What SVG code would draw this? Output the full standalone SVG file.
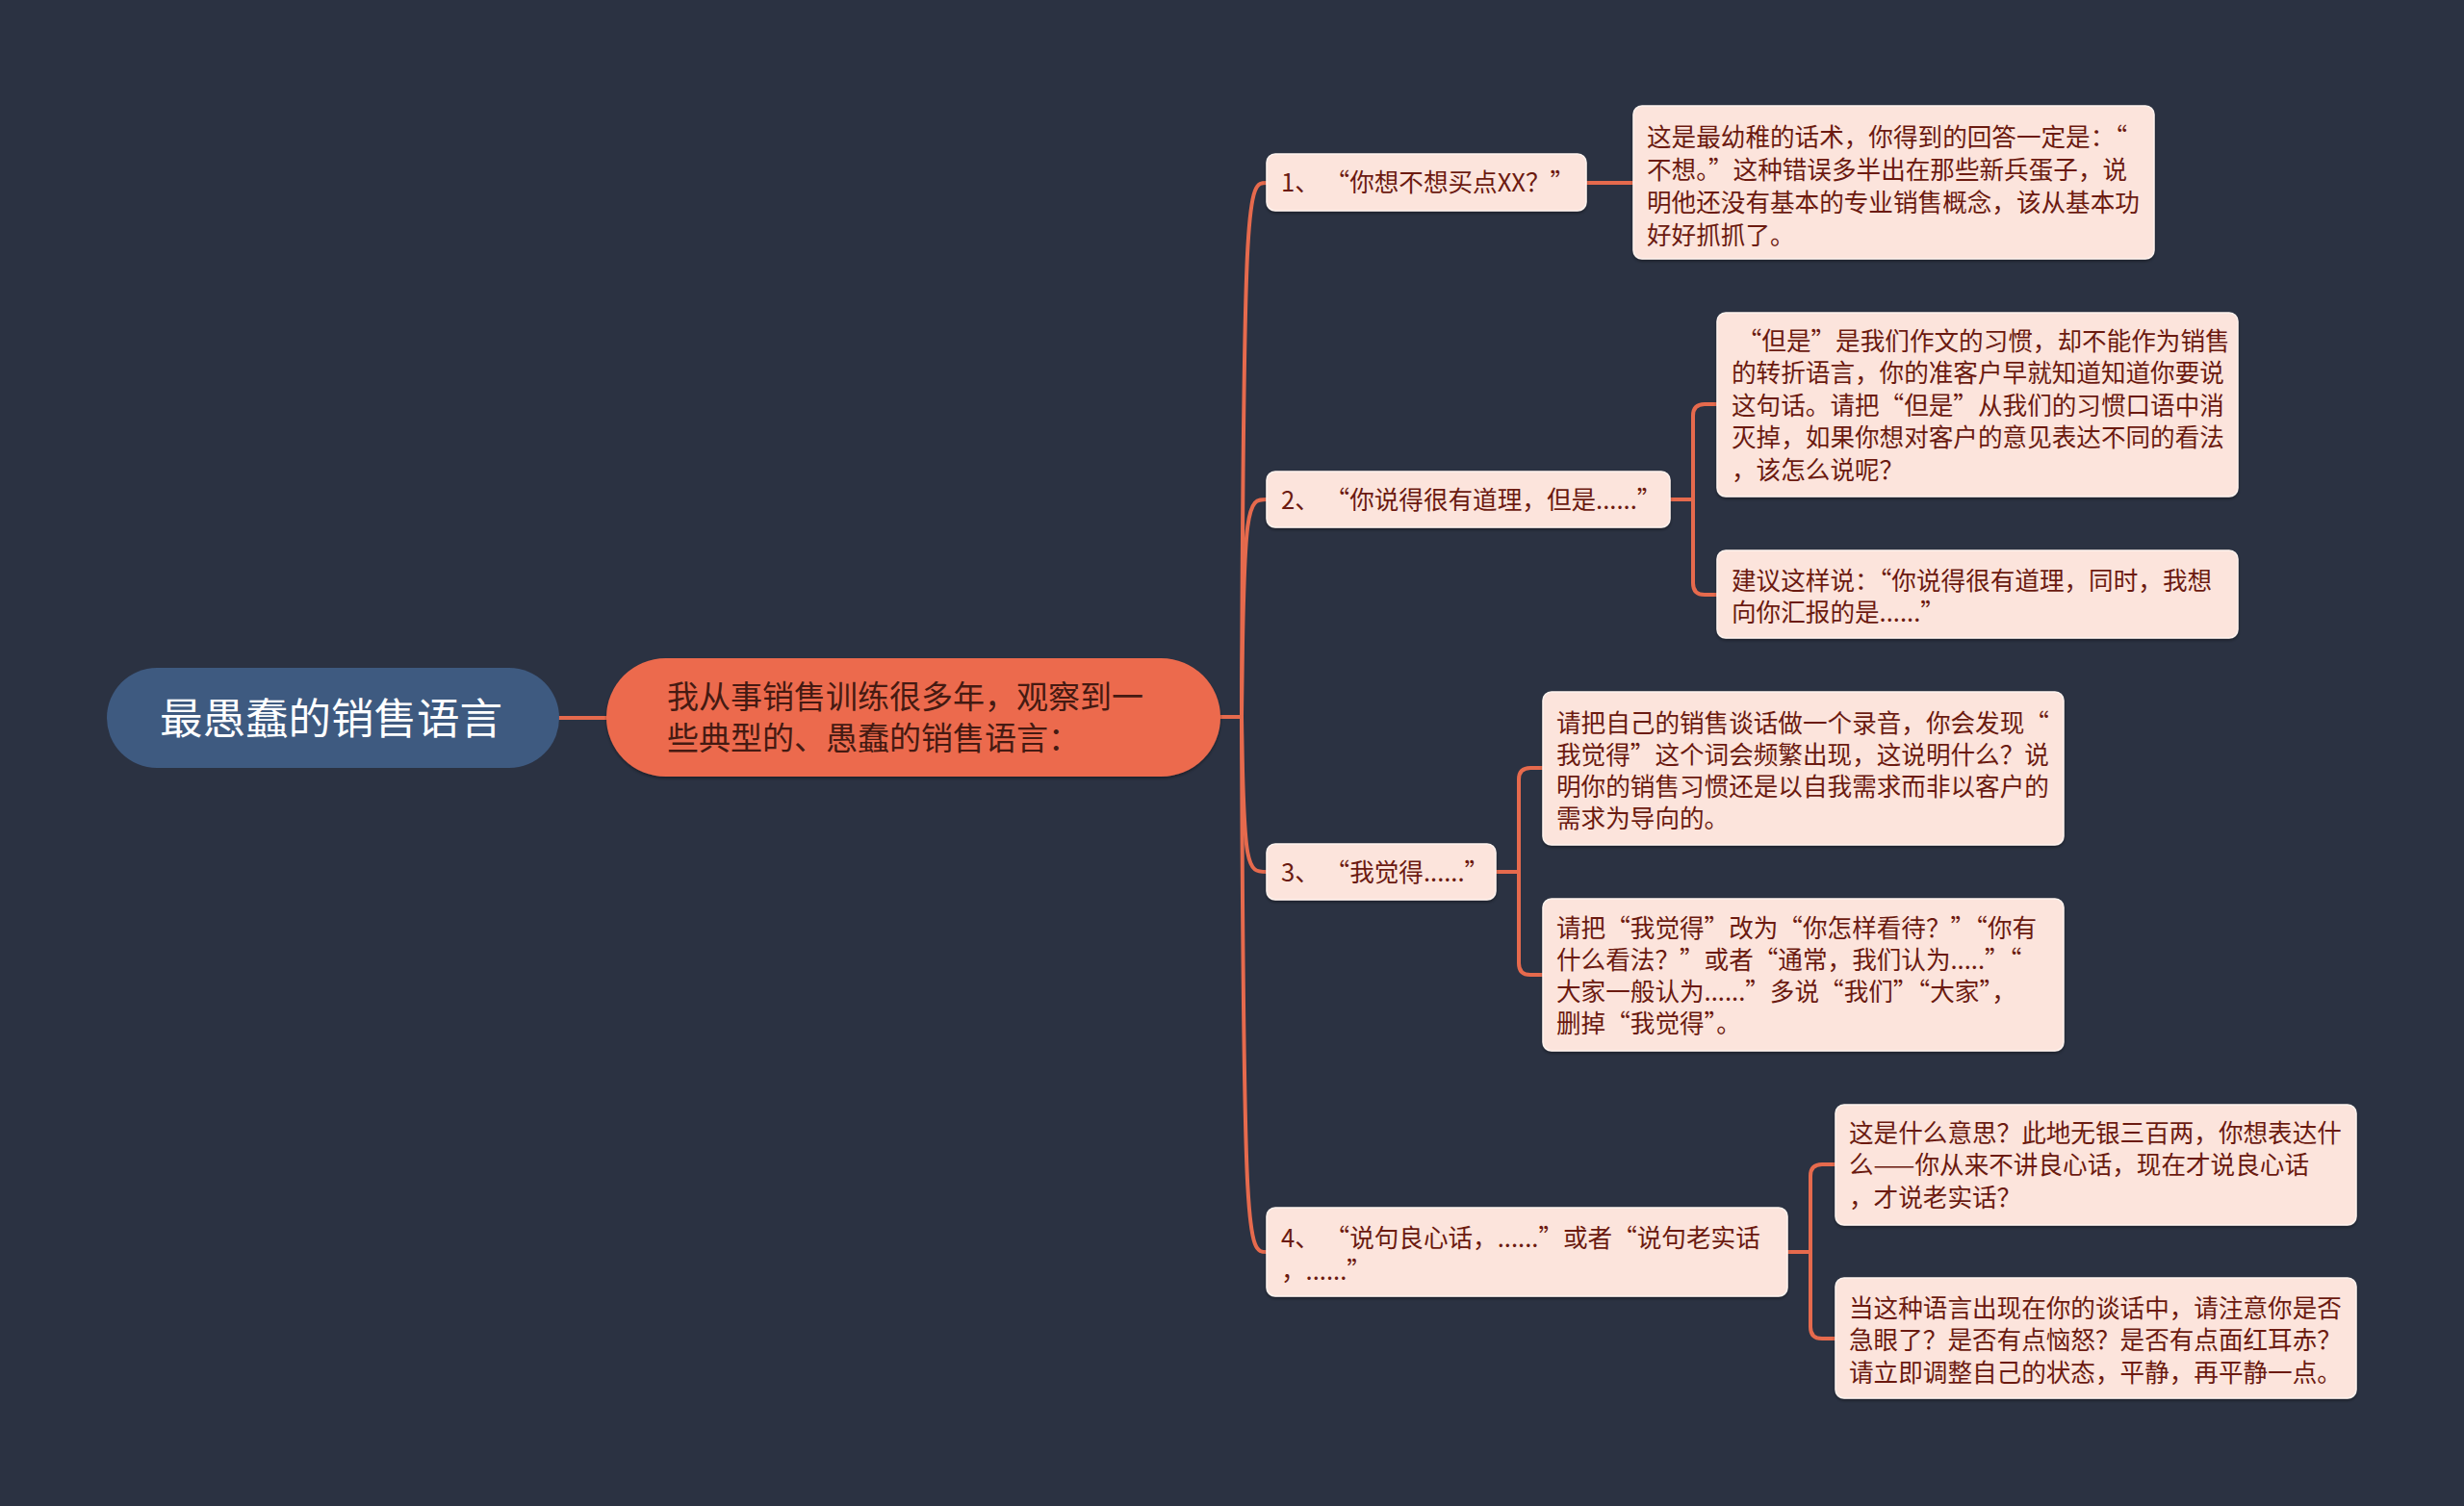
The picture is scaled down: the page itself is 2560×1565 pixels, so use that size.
<svg xmlns="http://www.w3.org/2000/svg" width="2560" height="1565" viewBox="0 0 2560 1565">
<defs>
<style>
.bg{fill:#2b3242}
.edge{fill:none;stroke:#e66a4d;stroke-width:4;stroke-linecap:round;stroke-linejoin:round}
.box{fill:#fce4dc;stroke:#fff3ee;stroke-width:1.5}
.t{font-family:"Noto Sans CJK SC","Noto Sans",sans-serif;fill:#6b1a10;font-size:25.6px;dominant-baseline:central;transform:translateY(-3px)}
.ct{font-family:"Noto Sans CJK SC","Noto Sans",sans-serif;fill:#451a12;font-size:33px;dominant-baseline:central;transform:translateY(-3px)}
.rt{font-family:"Noto Sans CJK SC","Noto Sans",sans-serif;fill:#ffffff;font-size:44.5px;dominant-baseline:central;text-anchor:middle;transform:translateY(-3px)}
</style>
<filter id="sh" x="-10%" y="-10%" width="120%" height="130%">
<feDropShadow dx="0" dy="2" stdDeviation="1.5" flood-color="#000000" flood-opacity="0.35"/>
</filter>
</defs>
<rect class="bg" x="0" y="0" width="2560" height="1565"/>

<g id="connectors">
<path class="edge" d="M581 746 H630"/>
<path class="edge" d="M1268 745 H1290"/>
<path class="edge" d="M1290 745 C1292 190 1296 190 1316 190"/>
<path class="edge" d="M1290 745 C1292 519 1296 519 1316 519"/>
<path class="edge" d="M1290 745 C1292 906 1296 906 1316 906"/>
<path class="edge" d="M1290 745 C1292 1301 1296 1301 1316 1301"/>
<path class="edge" d="M1648 190 H1697"/>
<path class="edge" d="M1735 519 H1759 V432 Q1759 420 1771 420 H1784"/>
<path class="edge" d="M1759 519 V606 Q1759 618 1771 618 H1784"/>
<path class="edge" d="M1554 906 H1578 V810 Q1578 798 1590 798 H1603"/>
<path class="edge" d="M1578 906 V1001 Q1578 1013 1590 1013 H1603"/>
<path class="edge" d="M1857 1301 H1881 V1222 Q1881 1210 1893 1210 H1907"/>
<path class="edge" d="M1881 1301 V1379 Q1881 1391 1893 1391 H1907"/>
</g>

<g id="root">
<rect x="111" y="694" width="470" height="104" rx="52" fill="#3e5a80"/>
<text class="rt" x="344" y="746">最愚蠢的销售语言</text>
</g>

<g id="central">
<rect x="630" y="684" width="638" height="123" rx="61.5" fill="#ec6b4e" filter="url(#sh)"/>
<text class="ct" x="693" y="725">我从事销售训练很多年，观察到一</text>
<text class="ct" x="693" y="768">些典型的、愚蠢的销售语言：</text>
</g>

<g id="n1">
<rect class="box" x="1316" y="160" width="332" height="59" rx="9" filter="url(#sh)"/>
<text class="t" x="1331" y="190">1、 “你想不想买点XX？”</text>
</g>
<g id="n1a">
<rect class="box" x="1697" y="110" width="541" height="159" rx="9" filter="url(#sh)"/>
<text class="t" x="1711" y="143">这是最幼稚的话术，你得到的回答一定是：“</text>
<text class="t" x="1711" y="177">不想。”这种错误多半出在那些新兵蛋子，说</text>
<text class="t" x="1711" y="211">明他还没有基本的专业销售概念，该从基本功</text>
<text class="t" x="1711" y="245">好好抓抓了。</text>
</g>

<g id="n2">
<rect class="box" x="1316" y="490" width="419" height="58" rx="9" filter="url(#sh)"/>
<text class="t" x="1331" y="520">2、 “你说得很有道理，但是......”</text>
</g>
<g id="n2a">
<rect class="box" x="1784" y="325" width="541" height="191" rx="9" filter="url(#sh)"/>
<text class="t" x="1799" y="355" xml:space="preserve"> “但是”是我们作文的习惯，却不能作为销售</text>
<text class="t" x="1799" y="388.5">的转折语言，你的准客户早就知道知道你要说</text>
<text class="t" x="1799" y="422">这句话。请把“但是”从我们的习惯口语中消</text>
<text class="t" x="1799" y="455.5">灭掉，如果你想对客户的意见表达不同的看法</text>
<text class="t" x="1799" y="489">，该怎么说呢？</text>
</g>
<g id="n2b">
<rect class="box" x="1784" y="572" width="541" height="91" rx="9" filter="url(#sh)"/>
<text class="t" x="1799" y="604">建议这样说：“你说得很有道理，同时，我想</text>
<text class="t" x="1799" y="637.5">向你汇报的是......”</text>
</g>

<g id="n3">
<rect class="box" x="1316" y="877" width="238" height="58" rx="9" filter="url(#sh)"/>
<text class="t" x="1331" y="907">3、 “我觉得......”</text>
</g>
<g id="n3a">
<rect class="box" x="1603" y="719" width="541" height="159" rx="9" filter="url(#sh)"/>
<text class="t" x="1617" y="752">请把自己的销售谈话做一个录音，你会发现“</text>
<text class="t" x="1617" y="785">我觉得”这个词会频繁出现，这说明什么？说</text>
<text class="t" x="1617" y="818">明你的销售习惯还是以自我需求而非以客户的</text>
<text class="t" x="1617" y="851">需求为导向的。</text>
</g>
<g id="n3b">
<rect class="box" x="1603" y="934" width="541" height="158" rx="9" filter="url(#sh)"/>
<text class="t" x="1617" y="965">请把“我觉得”改为“你怎样看待？”“你有</text>
<text class="t" x="1617" y="998">什么看法？”或者“通常，我们认为.....”“</text>
<text class="t" x="1617" y="1031">大家一般认为......”多说“我们”“大家”，</text>
<text class="t" x="1617" y="1064">删掉“我觉得”。</text>
</g>

<g id="n4">
<rect class="box" x="1316" y="1255" width="541" height="92" rx="9" filter="url(#sh)"/>
<text class="t" x="1331" y="1287">4、 “说句良心话，......”或者“说句老实话</text>
<text class="t" x="1331" y="1321">，......”</text>
</g>
<g id="n4a">
<rect class="box" x="1907" y="1148" width="541" height="125" rx="9" filter="url(#sh)"/>
<text class="t" x="1921" y="1178">这是什么意思？此地无银三百两，你想表达什</text>
<text class="t" x="1921" y="1211.5">么——你从来不讲良心话，现在才说良心话</text>
<text class="t" x="1921" y="1245">，才说老实话？</text>
</g>
<g id="n4b">
<rect class="box" x="1907" y="1328" width="541" height="125" rx="9" filter="url(#sh)"/>
<text class="t" x="1921" y="1360">当这种语言出现在你的谈话中，请注意你是否</text>
<text class="t" x="1921" y="1393.5">急眼了？是否有点恼怒？是否有点面红耳赤？</text>
<text class="t" x="1921" y="1427">请立即调整自己的状态，平静，再平静一点。</text>
</g>
</svg>
